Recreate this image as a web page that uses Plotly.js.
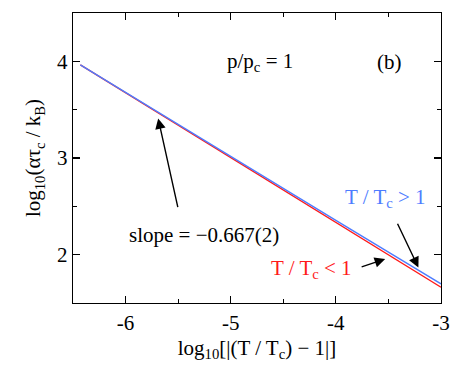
<!DOCTYPE html>
<html>
<head>
<meta charset="utf-8">
<script src="https://cdn.plot.ly/plotly-3.0.1.min.js"></script>
<style>
  html, body { margin: 0; padding: 0; background: #fff; }
  #chart { width: 457px; height: 379px; }
</style>
</head>
<body>
<div id="chart"></div>
<script>
// log10 of reduced temperature
const xVals = [-6.43, -6, -5.5, -5, -4.5, -4, -3.5, -3];
// T/Tc < 1 branch
const yBelow = [3.964, 3.675, 3.340, 3.004, 2.669, 2.334, 1.998, 1.663];
// T/Tc > 1 branch
const yAbove = [3.964, 3.678, 3.346, 3.014, 2.684, 2.355, 2.026, 1.698];

const xTicks = [-6, -5, -4, -3];
const xTickText = ['-6', '-5', '-4', '-3'];
const yTicks = [2, 3, 4];
const yTickText = ['2', '3', '4'];

const FONT = 'Liberation Serif';
const BLUE = '#4d7cff';
const RED = '#ff1a1a';

const traces = [
    {
        x: xVals, y: yBelow, mode: 'lines', name: 'T/Tc < 1',
        line: { color: RED, width: 1.4 }
    },
    {
        x: xVals, y: yAbove, mode: 'lines', name: 'T/Tc > 1',
        line: { color: BLUE, width: 1.4 }
    }
];

function arrow(hx, hy, tx, ty) {
    return {
        x: hx, y: hy, ax: tx, ay: ty,
        xref: 'x', yref: 'y', axref: 'x', ayref: 'y',
        text: '', showarrow: true,
        arrowhead: 2, arrowsize: 1.5, arrowwidth: 1.4, arrowcolor: '#000',
        standoff: 0, startstandoff: 0
    };
}

function label(x, y, text, color) {
    return {
        x: x, y: y, xref: 'x', yref: 'y', text: text, showarrow: false,
        font: { family: FONT, size: 21, color: color || '#000' }
    };
}

const annotations = [
    label(-4.72, 3.99, 'p/p<sub>c</sub> = 1'),
    label(-3.49, 3.99, '(b)'),
    label(-5.25, 2.20, 'slope = \u22120.667(2)'),
    label(-3.53, 2.59, 'T / T<sub>c</sub> > 1', BLUE),
    label(-4.23, 1.85, 'T / T<sub>c</sub> < 1', RED),
    arrow(-5.69, 3.409, -5.50, 2.477),
    arrow(-3.215, 1.868, -3.42, 2.335),
    arrow(-3.531, 1.955, -3.769, 1.868)
];

const axisCommon = {
    showgrid: false, zeroline: false,
    showline: true, linecolor: '#000', linewidth: 1.3, mirror: 'ticks',
    ticks: 'inside', ticklen: 7, tickwidth: 1.2, tickcolor: '#000',
    tickfont: { family: FONT, size: 21, color: '#000' },
    tickmode: 'array',
    minor: { ticks: 'inside', ticklen: 4, tickwidth: 1.2, tickcolor: '#000', dtick: 0.5 }
};

const layout = {
    width: 457, height: 379,
    margin: { l: 73, r: 16, t: 13, b: 76 },
    paper_bgcolor: '#fff', plot_bgcolor: '#fff',
    showlegend: false,
    font: { family: FONT, color: '#000' },
    xaxis: Object.assign({}, axisCommon, {
        range: [-6.5, -3], tickvals: xTicks, ticktext: xTickText,
        title: { text: 'log<sub>10</sub>[|(T / T<sub>c</sub>) \u2212 1|]', font: { family: FONT, size: 21 }, standoff: 6 }
    }),
    yaxis: Object.assign({}, axisCommon, {
        range: [1.5, 4.5], tickvals: yTicks, ticktext: yTickText,
        title: { text: 'log<sub>10</sub>(\u03b1\u03c4<sub>c</sub> / k<sub>B</sub>)', font: { family: FONT, size: 21 }, standoff: 10 }
    }),
    annotations: annotations
};

Plotly.newPlot('chart', traces, layout, { displayModeBar: false, staticPlot: true });
</script>
</body>
</html>
